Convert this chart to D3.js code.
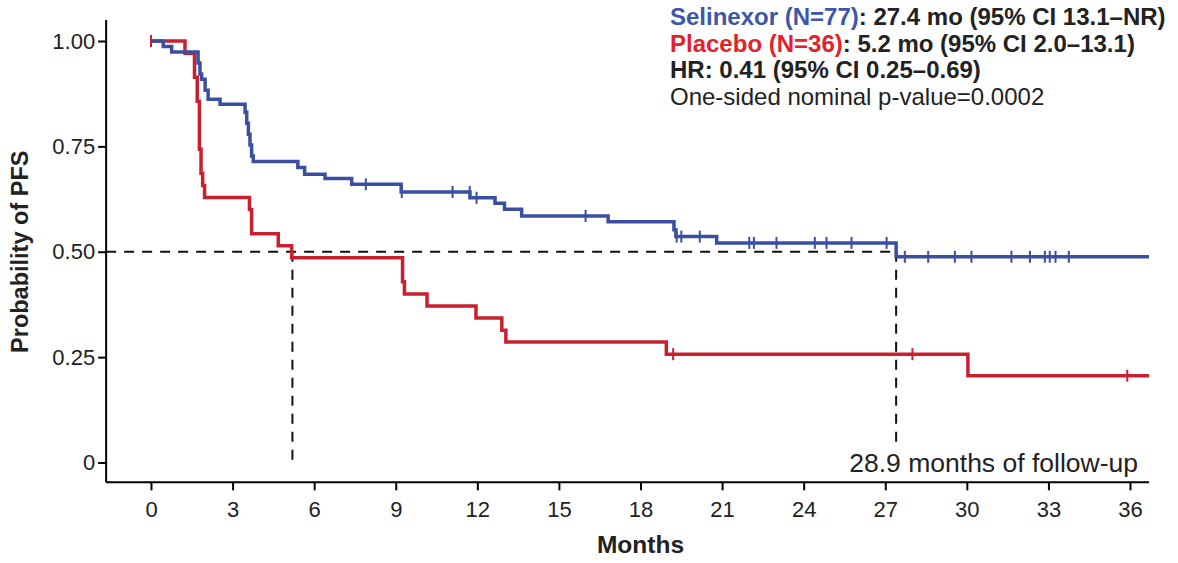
<!DOCTYPE html>
<html>
<head>
<meta charset="utf-8">
<script src="https://cdn.jsdelivr.net/npm/d3@7"></script>
<style>
  body { margin: 0; background: #fff; }
  svg { font-family: Arial, "Liberation Sans", sans-serif; }
</style>
</head>
<body>
<div id="chart"></div>
<script>
// Selinexor (N=77) - время в месяцах и вероятность PFS
const selTime = [0, 0.45, 0.76, 1.73, 1.8, 1.86, 1.99, 2.1, 2.54, 3.46, 3.52, 3.58, 3.64, 3.7, 3.76, 5.4, 5.65, 6.4, 7.38, 9.2, 11.73, 12.65, 13.0, 13.63, 16.81, 19.23, 19.3, 20.8, 27.4, 36.7];
const selSurv = [1.0, 0.987, 0.974, 0.948, 0.922, 0.909, 0.883, 0.862, 0.850, 0.831, 0.805, 0.779, 0.753, 0.727, 0.714, 0.700, 0.684, 0.674, 0.660, 0.642, 0.628, 0.615, 0.601, 0.585, 0.571, 0.552, 0.536, 0.521, 0.488, 0.488];
const selCensor = [7.9, 9.22, 11.09, 11.72, 11.97, 15.98, 19.33, 19.5, 20.18, 22.0, 22.17, 23.0, 24.41, 24.84, 25.76, 27.05, 27.72, 28.58, 29.56, 30.17, 31.64, 32.32, 32.87, 33.05, 33.26, 33.75];

// Placebo (N=36)
const plaTime = [0, 1.25, 1.6, 1.7, 1.78, 1.84, 1.9, 1.97, 3.62, 3.7, 4.68, 5.17, 9.25, 9.32, 10.15, 11.95, 12.9, 13.05, 18.95, 30.04, 36.7];
const plaSurv = [1.0, 0.971, 0.914, 0.857, 0.743, 0.686, 0.657, 0.629, 0.600, 0.543, 0.514, 0.486, 0.429, 0.400, 0.371, 0.343, 0.314, 0.286, 0.257, 0.206, 0.206];
const plaCensor = [0, 19.2, 28.0, 35.9];

// Медианы
const medians = [5.2, 27.4];

// Подписи осей
const xTicks = [0, 3, 6, 9, 12, 15, 18, 21, 24, 27, 30, 33, 36];
const yTicks = [0, 0.25, 0.5, 0.75, 1];
const yTickLabels = ['0', '0.25', '0.50', '0.75', '1.00'];

const blue = '#3a4ea2';
const red = '#c9202f';

let width = 1178;
let height = 563;

let svg = d3.select('#chart')
            .append('svg')
            .attr('width', width)
            .attr('height', height);

// Шкалы
let xScale = d3.scaleLinear().domain([0, 36]).range([151, 1130]);
let yScale = d3.scaleLinear().domain([0, 1]).range([462.5, 41]);

const xLo = -1.65, xHi = 36.7, yLo = -0.047, yHi = 1.05;

// Ось X
let xAxis = d3.axisBottom(xScale)
              .tickValues(xTicks)
              .tickSize(8)
              .tickSizeOuter(0);

let gx = svg.append('g')
   .attr('transform', `translate(0, ${yScale(yLo)})`)
   .call(xAxis);
gx.select('.domain').remove();
gx.append('line')
  .attr('x1', xScale(xLo)).attr('x2', xScale(xHi))
  .attr('stroke', '#000').attr('stroke-width', 2);
gx.selectAll('.tick line').attr('stroke-width', 2);
gx.selectAll('.tick text')
  .attr('dy', '1.1em')
  .attr('font-size', 22)
  .attr('font-family', 'Arial, "Liberation Sans", sans-serif')
  .attr('fill', '#222');

// Ось Y
let yAxis = d3.axisLeft(yScale)
              .tickValues(yTicks)
              .tickFormat((d, i) => yTickLabels[i])
              .tickSize(8)
              .tickSizeOuter(0);

let gy = svg.append('g')
   .attr('transform', `translate(${xScale(xLo)}, 0)`)
   .call(yAxis);
gy.select('.domain').remove();
gy.append('line')
  .attr('y1', yScale(yLo)).attr('y2', yScale(yHi))
  .attr('stroke', '#000').attr('stroke-width', 2);
gy.selectAll('.tick line').attr('stroke-width', 2);
gy.selectAll('.tick text')
  .attr('x', -11)
  .attr('font-size', 22)
  .attr('font-family', 'Arial, "Liberation Sans", sans-serif')
  .attr('fill', '#222');

// Подписи осей
svg.append('text')
   .attr('x', xScale(18)).attr('y', 553)
   .attr('text-anchor', 'middle')
   .attr('font-size', 24.5).attr('font-weight', 'bold')
   .attr('fill', '#222')
   .text('Months');

svg.append('text')
   .attr('transform', `translate(28, ${yScale(0.5)}) rotate(-90)`)
   .attr('text-anchor', 'middle')
   .attr('font-size', 23.5).attr('font-weight', 'bold')
   .attr('fill', '#222')
   .text('Probability of PFS');

// Пунктир медиан
let dash = svg.append('g')
              .attr('stroke', '#111')
              .attr('stroke-width', 2)
              .attr('stroke-dasharray', '10,8')
              .attr('fill', 'none');

dash.append('line')
    .attr('x1', xScale(xLo)).attr('x2', xScale(medians[1]))
    .attr('y1', yScale(0.5)).attr('y2', yScale(0.5));
dash.append('line')
    .attr('x1', xScale(medians[0])).attr('x2', xScale(medians[0]))
    .attr('y1', yScale(0.5)).attr('y2', yScale(0));
dash.append('line')
    .attr('x1', xScale(medians[1])).attr('x2', xScale(medians[1]))
    .attr('y1', yScale(0.5)).attr('y2', yScale(0.035));

// Ступенчатые линии
let line = d3.line()
             .x(d => xScale(d[0]))
             .y(d => yScale(d[1]))
             .curve(d3.curveStepAfter);

function survAt(times, surv, t) {
  let i = d3.bisectRight(times, t) - 1;
  return surv[Math.max(i, 0)];
}

function drawCurve(times, surv, censor, color) {
  svg.append('path')
     .datum(times.map((t, i) => [t, surv[i]]))
     .attr('fill', 'none')
     .attr('stroke', color)
     .attr('stroke-width', 3.5)
     .attr('d', line);

  svg.selectAll(null)
     .data(censor)
     .enter()
     .append('line')
     .attr('x1', d => xScale(d)).attr('x2', d => xScale(d))
     .attr('y1', d => yScale(survAt(times, surv, d)) - 6)
     .attr('y2', d => yScale(survAt(times, surv, d)) + 6)
     .attr('stroke', color)
     .attr('stroke-width', 2);
}

drawCurve(plaTime, plaSurv, plaCensor, red);
drawCurve(selTime, selSurv, selCensor, blue);

// Подпись follow-up
svg.append('text')
   .attr('x', 1138).attr('y', 472)
   .attr('text-anchor', 'end')
   .attr('font-size', 26.5)
   .attr('fill', '#222')
   .text('28.9 months of follow-up');

// Легенда
let legend = svg.append('g').attr('font-size', 24).attr('fill', '#222');

let l1 = legend.append('text').attr('x', 670).attr('y', 25).attr('font-weight', 'bold');
l1.append('tspan').attr('fill', '#3d57a8').text('Selinexor (N=77)');
l1.append('tspan').text(': 27.4 mo (95% CI 13.1–NR)');

let l2 = legend.append('text').attr('x', 670).attr('y', 51.5).attr('font-weight', 'bold');
l2.append('tspan').attr('fill', '#e3212b').text('Placebo (N=36)');
l2.append('tspan').text(': 5.2 mo (95% CI 2.0–13.1)');

legend.append('text').attr('x', 670).attr('y', 78).attr('font-weight', 'bold')
      .text('HR: 0.41 (95% CI 0.25–0.69)');

legend.append('text').attr('x', 670).attr('y', 104.5)
      .text('One-sided nominal p-value=0.0002');
</script>
</body>
</html>
